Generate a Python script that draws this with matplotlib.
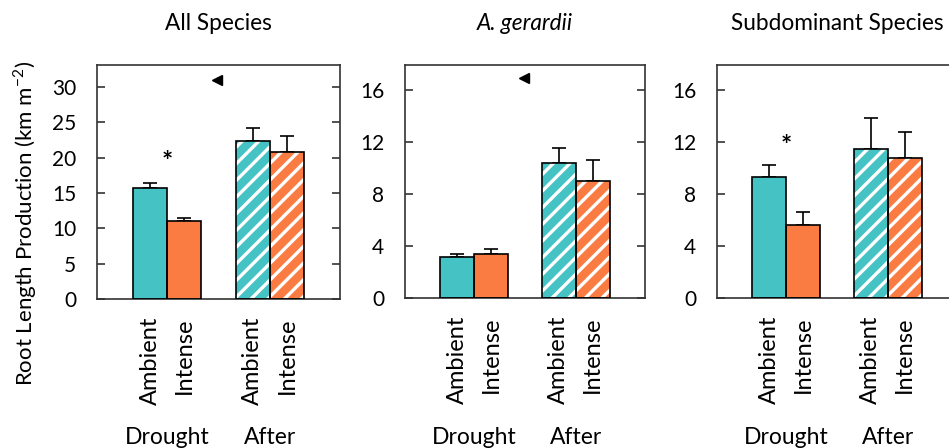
import matplotlib
matplotlib.use("Agg")
import matplotlib.pyplot as plt
import numpy as np

plt.rcParams['font.family'] = ['Lato', 'DejaVu Sans']
plt.rcParams['hatch.linewidth'] = 2.4
plt.rcParams['hatch.color'] = 'white'

# ---- data ----
panels = ["All Species", "A. gerardii", "Subdominant Species"]
treatments = ["Ambient", "Intense", "Ambient", "Intense"]
periods = ["Drought", "After"]
means = [
    [15.7, 11.0, 22.3, 20.8],
    [3.13, 3.38, 10.36, 8.97],
    [9.26, 5.6, 11.47, 10.72],
]
errors = [
    [0.7, 0.45, 1.9, 2.2],
    [0.25, 0.42, 1.2, 1.6],
    [0.98, 1.0, 2.33, 2.05],
]
ylims = [33.1, 17.9, 17.9]
yticks = [[0, 5, 10, 15, 20, 25, 30], [0, 4, 8, 12, 16], [0, 4, 8, 12, 16]]
star_y = [19.4, None, 11.7]      # significance asterisk height
marker_pts = [(1.96, 31.0), (1.97, 16.9), None]  # stray triangle markers

teal = "#45C2C3"
orange = "#FA7C42"
colors = [teal, orange, teal, orange]
hatched = [False, False, True, True]
xpos = [0, 1, 3, 4]

fig = plt.figure(figsize=(9.49, 4.48), dpi=100)
W, H = 949, 448
axes_px = [(97, 340, 65, 299), (405, 645, 65, 298), (717, 957, 65, 298)]

for i, (l, r, t, b) in enumerate(axes_px):
    ax = fig.add_axes([l / W, 1 - b / H, (r - l) / W, (b - t) / H])
    for j in range(4):
        if hatched[j]:
            ax.bar(xpos[j], means[i][j], width=1.0, color=colors[j],
                   edgecolor='white', hatch='//', linewidth=0, zorder=2)
        else:
            ax.bar(xpos[j], means[i][j], width=1.0, color=colors[j],
                   linewidth=0, zorder=2)
        ax.bar(xpos[j], means[i][j], width=1.0, facecolor='none',
               edgecolor='black', linewidth=1.2, zorder=3)
        ax.errorbar(xpos[j], means[i][j], yerr=[[0], [errors[i][j]]],
                    fmt='none', ecolor='black', elinewidth=1.2,
                    capsize=5, capthick=1.2, zorder=1)
    ax.set_xlim(-1.55, 5.55)
    ax.set_ylim(0, ylims[i])
    ax.set_yticks(yticks[i])
    ax.set_xticks(xpos)
    ax.set_xticklabels(treatments, rotation=90, fontsize=17, va='top')
    ax.tick_params(axis='x', length=0, pad=13)
    ax.tick_params(axis='y', direction='in', length=6, width=1.1,
                   right=True, labelsize=15, pad=15, colors='#222222',
                   labelcolor='black')
    for s in ax.spines.values():
        s.set_linewidth(1.2)
        s.set_color('#333333')
    if star_y[i] is not None:
        ax.text(0.5, star_y[i], '*', ha='center', va='center', fontsize=19,
                fontweight='bold')
    if marker_pts[i] is not None:
        ax.plot([marker_pts[i][0]], [marker_pts[i][1]], marker='<',
                color='black', markersize=7, linestyle='none')
    # group labels
    for k, p in enumerate(periods):
        cx = l + (r - l) * ((0.5 + 3 * k) + 1.55) / 7.1
        fig.text(cx / W, 1 - 437 / H, p, ha='center', va='center', fontsize=16.5)
    fig.text((l + r) / 2 / W, 1 - 23 / H, panels[i], ha='center', va='center',
             fontsize=16.3, style='italic' if i == 1 else 'normal')

fig.text(25 / W, 1 - 223 / H, "Root Length Production (km m$^{\\mathregular{-2}}$)",
         rotation=90, ha='center', va='center', fontsize=16)

fig.savefig("out.png", dpi=100)
